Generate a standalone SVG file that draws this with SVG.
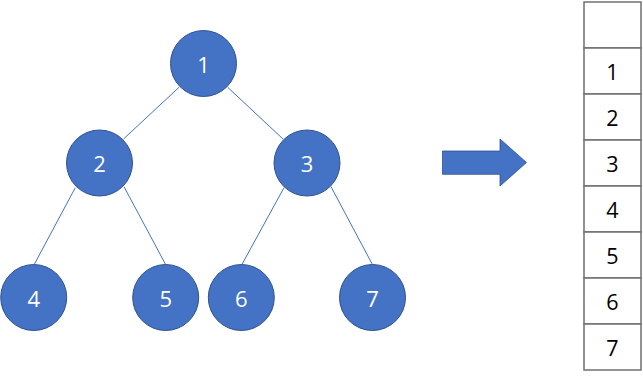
<svg xmlns="http://www.w3.org/2000/svg" width="643" height="377" viewBox="0 0 643 377">
<style>
.node circle{fill:#4472C4;stroke:#2F528F;stroke-width:1}
.node text{fill:#fff;font-family:"Open Sans","Noto Sans",sans-serif;font-size:22px;text-anchor:middle;dominant-baseline:central}
.edge{stroke:#4472C4;stroke-width:1;fill:none}
.cell rect{fill:#fff;stroke:#6f6f6f;stroke-width:1.5}
.cell text{fill:#000;font-family:"Open Sans","Noto Sans",sans-serif;font-size:21.5px;text-anchor:middle;dominant-baseline:central}
</style>
<rect width="643" height="377" fill="#fff"/>
<g id="connectors">
<line class="edge" x1="179" y1="87.3" x2="123.5" y2="139"/>
<line class="edge" x1="227.7" y1="87.3" x2="283.3" y2="139.3"/>
<line class="edge" x1="75.3" y1="187.7" x2="34.3" y2="264.3"/>
<line class="edge" x1="124" y1="186.7" x2="165.5" y2="264.3"/>
<line class="edge" x1="284" y1="187.7" x2="242" y2="264.3"/>
<line class="edge" x1="331" y1="186.7" x2="372.3" y2="264.3"/>
</g>
<g id="n1" class="node"><circle cx="203.5" cy="63.5" r="33"/><text x="203.5" y="63.5">1</text></g>
<g id="n2" class="node"><circle cx="99.5" cy="163" r="33"/><text x="99.5" y="163">2</text></g>
<g id="n3" class="node"><circle cx="307" cy="163" r="33"/><text x="307" y="163">3</text></g>
<g id="n4" class="node"><circle cx="33.7" cy="297.5" r="33"/><text x="33.7" y="297.5">4</text></g>
<g id="n5" class="node"><circle cx="165.7" cy="297.5" r="33"/><text x="165.7" y="297.5">5</text></g>
<g id="n6" class="node"><circle cx="241.3" cy="297.5" r="33"/><text x="241.3" y="297.5">6</text></g>
<g id="n7" class="node"><circle cx="372.5" cy="297.5" r="33"/><text x="372.5" y="297.5">7</text></g>
<g id="arrow"><polygon points="442.5,151 500,151 500,139 526.5,162.5 500,186 500,174.3 442.5,174.3" fill="#4472C4" stroke="#2F528F" stroke-width="0.8"/></g>
<g id="table">
<g class="cell"><rect x="584" y="2" width="57" height="46"/></g>
<g class="cell"><rect x="584" y="48" width="57" height="46"/><text x="612.5" y="71">1</text></g>
<g class="cell"><rect x="584" y="94" width="57" height="46"/><text x="612.5" y="117">2</text></g>
<g class="cell"><rect x="584" y="140" width="57" height="46"/><text x="612.5" y="163">3</text></g>
<g class="cell"><rect x="584" y="186" width="57" height="46"/><text x="612.5" y="209">4</text></g>
<g class="cell"><rect x="584" y="232" width="57" height="46"/><text x="612.5" y="255">5</text></g>
<g class="cell"><rect x="584" y="278" width="57" height="46"/><text x="612.5" y="301">6</text></g>
<g class="cell"><rect x="584" y="324" width="57" height="46"/><text x="612.5" y="347">7</text></g>
</g>
</svg>
